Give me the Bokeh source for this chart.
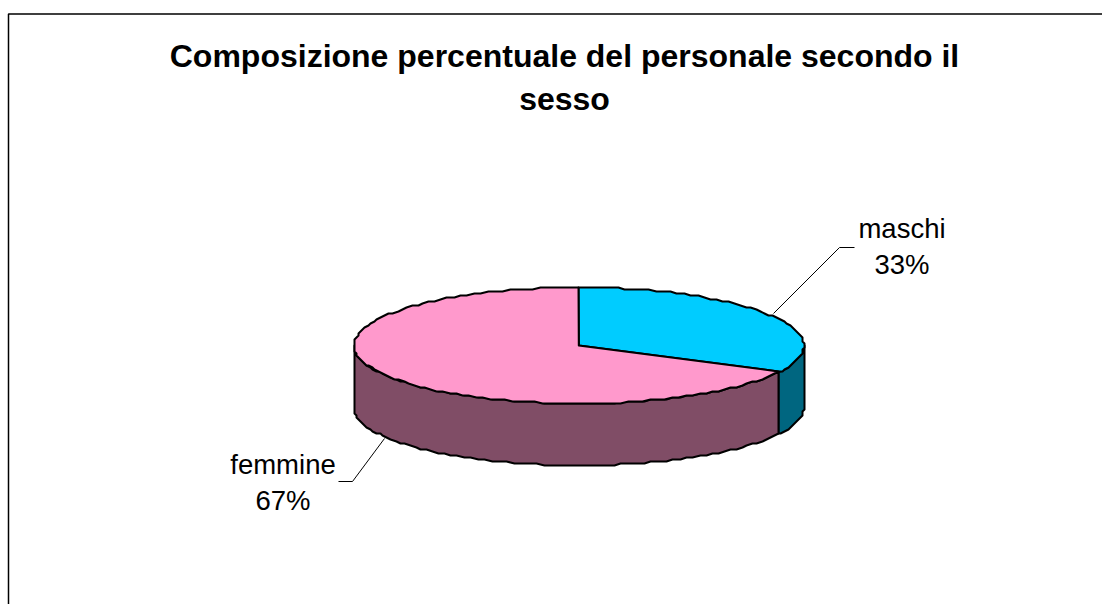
import numpy as np
from bokeh.plotting import figure
from bokeh.embed import file_html
from bokeh.resources import INLINE
from bokeh.core.properties import value

# --- data ---
categories = ["maschi", "femmine"]
percentages = [32.7, 67.3]
title_lines = ["Composizione percentuale del personale secondo il", "sesso"]

# --- style / layout ---
top_colors = ["#00CCFF", "#FF99CC"]
side_colors = ["#006680", "#804D66"]
FONT = value("Liberation Sans")
CX, CY, RX, RY, DEPTH = 578.3, 345, 225, 58, 62
label_pos = [(902, 229, 265), (283, 465, 501)]
leaders = [([773, 839, 854], [313, 247, 247]), ([384, 352, 338], [438, 481, 481])]


def ell(theta, dy=0):
    # theta: clockwise from 12 o'clock, in degrees. Slightly stepped outline like the source.
    t = np.radians(theta)
    x = CX + RX * np.sin(t)
    y = CY - RY * np.cos(t) + dy
    return np.round(x / 2) * 2, np.round((y - 1) / 2) * 2 + 1


p = figure(width=1102, height=604, x_range=(0, 1102), y_range=(604, 0),
           output_backend="svg", toolbar_location=None,
           x_axis_location=None, y_axis_location=None,
           min_border=0, outline_line_color=None, background_fill_color="white")
p.grid.visible = False

# chart border
p.line([8, 8, 1102], [604, 13.5, 13.5], line_color="black", line_width=1.5)

# slice angles from the values
total = sum(percentages)
edges = np.cumsum([0] + percentages) / total * 360.0

# side walls: only the front half (90..270 degrees) is visible
for i in range(len(percentages)):
    a0, a1 = max(edges[i], 90.0), min(edges[i + 1], 270.0)
    if a1 <= a0:
        continue
    th = np.linspace(a0, a1, int(a1 - a0) // 2 + 2)
    xt, yt = ell(th)
    xb, yb = ell(th, DEPTH)
    p.patch(np.r_[xt, xb[::-1]], np.r_[yt, yb[::-1]],
            fill_color=side_colors[i], line_color="black", line_width=2, line_join="round")

# top faces
for i in range(len(percentages)):
    th = np.linspace(edges[i], edges[i + 1], int(edges[i + 1] - edges[i]) // 2 + 2)
    xt, yt = ell(th)
    p.patch(np.r_[CX, xt], np.r_[CY, yt],
            fill_color=top_colors[i], line_color="black", line_width=2, line_join="round")

# leader lines
for lx, ly in leaders:
    p.line(lx, ly, line_color="black", line_width=1)

# labels
for i, c in enumerate(categories):
    x, y1, y2 = label_pos[i]
    p.text([x - 0.5, x - 0.5], [y1 - 1, y2 - 1], text=[c, f"{round(percentages[i])}%"], text_font=FONT,
           text_font_size="27.5px", text_align="center", text_baseline="middle", text_color="black")

# title
p.text([564, 564], [55.5, 98.5], text=title_lines, text_font=FONT, text_font_size="32px",
       text_font_style="bold", text_align="center", text_baseline="middle", text_color="black")

open("out.html", "w").write(file_html(p, INLINE))
